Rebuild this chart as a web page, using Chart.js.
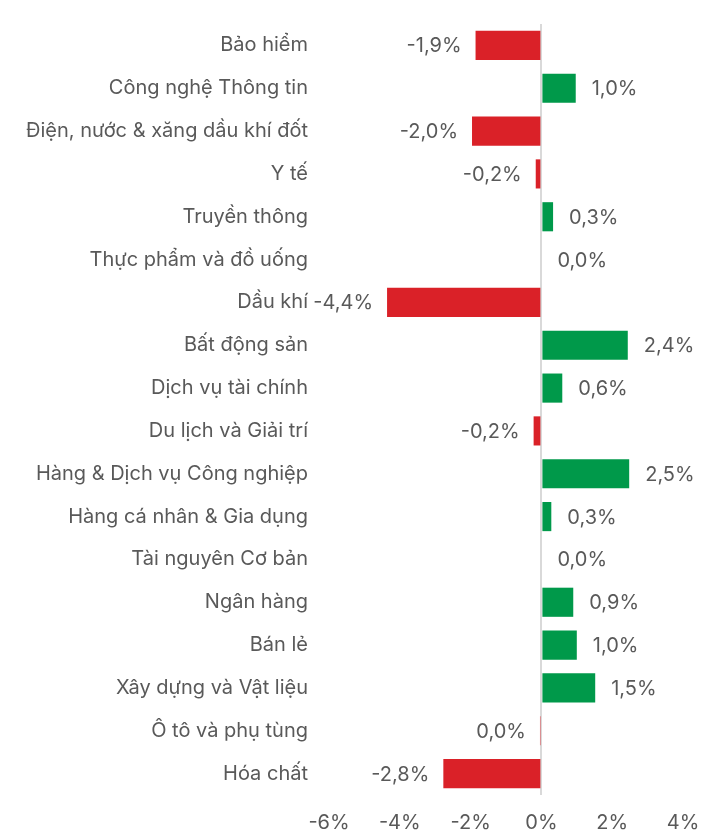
<!DOCTYPE html>
<html>
<head>
<meta charset="utf-8">
<script src="https://cdn.jsdelivr.net/npm/chart.js"></script>
<style>
  html, body { margin: 0; padding: 0; background: #fff; }
  #wrap { width: 704px; height: 834px; }
</style>
</head>
<body>
<div id="wrap"><canvas id="myChart" width="704" height="834"></canvas></div>
<script>
// Sector names (top to bottom) and % change
const sectors = [
    'Bảo hiểm', 'Công nghệ Thông tin', 'Điện, nước & xăng dầu khí đốt', 'Y tế',
    'Truyền thông', 'Thực phẩm và đồ uống', 'Dầu khí', 'Bất động sản',
    'Dịch vụ tài chính', 'Du lịch và Giải trí', 'Hàng & Dịch vụ Công nghiệp',
    'Hàng cá nhân & Gia dụng', 'Tài nguyên Cơ bản', 'Ngân hàng', 'Bán lẻ',
    'Xây dựng và Vật liệu', 'Ô tô và phụ tùng', 'Hóa chất'
];
const changes = [
    -1.86, 0.97, -1.96, -0.16, 0.33, 0.0, -4.36, 2.44, 0.59,
    -0.22, 2.48, 0.28, 0.0, 0.9, 1.0, 1.52, -0.04, -2.77
];
const xTicks = [-6, -4, -2, 0, 2, 4];

const RED = '#da2128';
const GREEN = '#00994a';
const TEXT = '#595959';
const FONT = 'Inter, "Noto Sans", sans-serif';

function fmt(v) {
    let s = v.toFixed(1).replace('.', ',');
    if (s === '-0,0') s = '0,0';
    return s + '%';
}

// draws value labels next to each bar end
const valueLabels = {
    id: 'valueLabels',
    afterDatasetsDraw(chart) {
        const ctx = chart.ctx;
        const xs = chart.scales.x;
        const ys = chart.scales.y;
        ctx.save();
        ctx.font = '20px ' + FONT;
        ctx.fillStyle = TEXT;
        ctx.textBaseline = 'middle';
        changes.forEach((v, i) => {
            const x = xs.getPixelForValue(v);
            const y = ys.getPixelForValue(i);
            if (v < 0) {
                ctx.textAlign = 'right';
                ctx.fillText(fmt(v), x - 14, y + 1);
            } else {
                ctx.textAlign = 'left';
                ctx.fillText(fmt(v), x + 16, y + 1);
            }
        });
        ctx.restore();
    }
};

const ctx = document.getElementById('myChart').getContext('2d');
new Chart(ctx, {
    type: 'bar',
    data: {
        labels: sectors,
        datasets: [{
            data: changes,
            backgroundColor: changes.map(v => v < 0 ? RED : GREEN),
            barPercentage: 0.85,
            categoryPercentage: 0.8
        }]
    },
    options: {
        indexAxis: 'y',
        responsive: false,
        animation: false,
        devicePixelRatio: 1,
        layout: { padding: { top: 24, right: 21, bottom: 0, left: 0 } },
        plugins: {
            legend: { display: false },
            tooltip: { enabled: false }
        },
        scales: {
            x: {
                min: -6,
                max: 4,
                afterBuildTicks: (scale) => { scale.ticks = xTicks.map(v => ({ value: v })); },
                afterFit: (scale) => {
                    scale.height = 39;
                    scale.paddingLeft = 0;
                    scale.paddingRight = 0;
                },
                grid: {
                    drawTicks: false,
                    lineWidth: 2,
                    color: (c) => c.tick && c.tick.value === 0 ? '#d9d9d9' : 'rgba(0,0,0,0)'
                },
                border: { display: false },
                ticks: {
                    padding: 16,
                    color: TEXT,
                    font: { family: FONT, size: 20 },
                    callback: (v) => v + '%'
                }
            },
            y: {
                afterFit: (scale) => {
                    scale.width = 329;
                    scale.paddingTop = 0;
                    scale.paddingBottom = 0;
                },
                grid: { display: false, drawTicks: false },
                border: { display: false },
                ticks: {
                    padding: 21,
                    color: TEXT,
                    font: { family: FONT, size: 20 }
                }
            }
        }
    },
    plugins: [valueLabels]
});
</script>
</body>
</html>
